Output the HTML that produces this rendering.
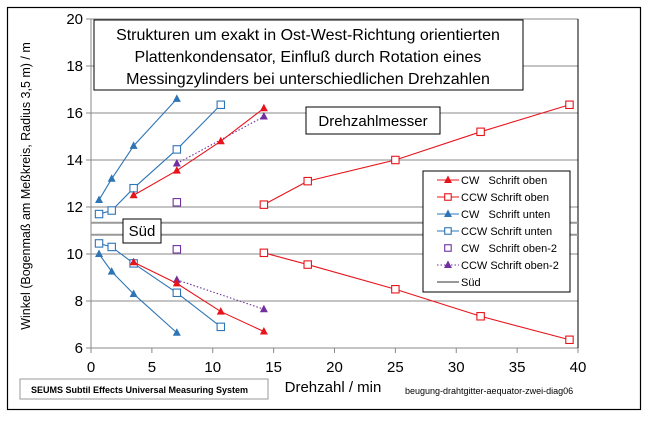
<!DOCTYPE html>
<html><head><meta charset="utf-8"><style>
body{margin:0;background:#fff;font-family:"Liberation Sans",sans-serif}
svg text{font-family:"Liberation Sans",sans-serif}
</style></head><body>
<svg id="chart" width="648" height="417" xmlns="http://www.w3.org/2000/svg">
<rect x="7.5" y="7.5" width="633" height="402" fill="#fff" stroke="#000" stroke-width="1.2"/>
<g id="grid"></g>
<g id="axes"></g>
<g id="series"></g>
<rect x="94" y="20" width="429" height="70" fill="#fff" stroke="#000"/>
<text x="308" y="40" font-size="16" text-anchor="middle">Strukturen um exakt in Ost-West-Richtung orientierten</text>
<text x="308" y="62" font-size="16" text-anchor="middle">Plattenkondensator, Einfluß durch Rotation eines</text>
<text x="308" y="84" font-size="16" text-anchor="middle">Messingzylinders bei unterschiedlichen Drehzahlen</text>
<rect x="306" y="107" width="134" height="27" fill="#fff" stroke="#000"/>
<text x="373" y="126" font-size="15" text-anchor="middle">Drehzahlmesser</text>
<rect x="123" y="219" width="38" height="24" fill="#fff" stroke="#000"/>
<text x="142" y="236" font-size="15" text-anchor="middle">Süd</text>
<text transform="translate(30,186) rotate(-90)" font-size="12.5" text-anchor="middle">Winkel (Bogenmaß am Meßkreis, Radius 3,5 m) / m</text>
<text x="333" y="392" font-size="15" text-anchor="middle">Drehzahl / min</text>
<rect x="20" y="379" width="248" height="20" fill="#fff" stroke="#999"/>
<text x="31" y="393" font-size="9" font-weight="bold">SEUMS    Subtil Effects Universal Measuring System</text>
<text x="405" y="394" font-size="9">beugung-drahtgitter-aequator-zwei-diag06</text>
<g id="legend"></g>
</svg>
<script>
const yTicks=[6,8,10,12,14,16,18,20];
const xTicks=[0,5,10,15,20,25,30,35,40];
const cwObenX=[3.5,7.05,10.66,14.2];
const cwObenUp=[12.5,13.55,14.8,16.2];
const cwObenDn=[9.65,8.75,7.55,6.7];
const ccwObenX=[14.2,17.8,25,32,39.3];
const ccwObenUp=[12.1,13.1,14.0,15.2,16.35];
const ccwObenDn=[10.05,9.55,8.5,7.35,6.35];
const cwUntenX=[0.66,1.7,3.5,7.05];
const cwUntenUp=[12.3,13.2,14.6,16.6];
const cwUntenDn=[10.0,9.25,8.3,6.65];
const ccwUntenX=[0.66,1.7,3.5,7.05,10.66];
const ccwUntenUp=[11.7,11.85,12.8,14.45,16.35];
const ccwUntenDn=[10.45,10.3,9.6,8.35,6.9];
const cwOben2X=[7.05];
const cwOben2Up=[12.2];
const cwOben2Dn=[10.2];
const ccwOben2X=[7.05,14.2];
const ccwOben2Up=[13.85,15.85];
const ccwOben2Dn=[8.9,7.65];
const suedY=[11.33,10.82];

const NS="http://www.w3.org/2000/svg";
const X0=91,X1=578,Y0=348,Y1=19;
const xs=v=>X0+(v-0)/(40-0)*(X1-X0);
const ys=v=>Y0-(v-6)/(20-6)*(Y0-Y1);
function mk(tag,attrs,parent){const e=document.createElementNS(NS,tag);for(const k in attrs)e.setAttribute(k,attrs[k]);parent.appendChild(e);return e;}
const grid=document.getElementById('grid'),axes=document.getElementById('axes'),ser=document.getElementById('series'),leg=document.getElementById('legend');
yTicks.forEach(t=>{
  if(t>6){const g=mk('line',{x1:X0,x2:X1,y1:ys(t),y2:ys(t),stroke:'#888','stroke-width':1},grid);
  
  }
  const tk=mk('line',{x1:X0-5,x2:X0,y1:ys(t),y2:ys(t),stroke:'#888'},axes);
  
  
  const l=mk('text',{x:X0-8,y:ys(t)+5,'font-size':15,'text-anchor':'end'},axes);l.textContent=t;
  
  
});
xTicks.forEach(t=>{
  const tk=mk('line',{x1:xs(t),x2:xs(t),y1:Y0,y2:Y0+5,stroke:'#888'},axes);
  
  
  const l=mk('text',{x:xs(t),y:Y0+24,'font-size':15,'text-anchor':'middle'},axes);l.textContent=t;
  
  
});
const ya=mk('line',{x1:X0,x2:X0,y1:Y1,y2:Y0,stroke:'#888'},axes);


const xa=mk('line',{x1:X0,x2:X1,y1:Y0,y2:Y0,stroke:'#888'},axes);


const ra=mk('line',{x1:X1,x2:X1,y1:Y1,y2:Y0,stroke:'#000'},axes);


suedY.forEach(v=>{
  const l=mk('line',{x1:X0,x2:X1,y1:ys(v),y2:ys(v),stroke:'#999','stroke-width':2},ser);
  
  
});
function marker(kind,cx,cy,color,parent){
  let m;
  if(kind==='tri') m=mk('polygon',{points:`${cx},${cy-4.5} ${cx-4},${cy+3} ${cx+4},${cy+3}`,fill:color},parent);
  else m=mk('rect',{x:cx-3.7,y:cy-3.7,width:7.4,height:7.4,fill:'#fff',stroke:color,'stroke-width':1.1},parent);
  return m;
}
function series(name,xArr,yArr,color,kind,line,dash){
  const g=mk('g',{},ser);
  
  
  if(line){const p=mk('polyline',{points:xArr.map((x,i)=>xs(x)+','+ys(yArr[i])).join(' '),fill:'none',stroke:color,'stroke-width':1.1},g);
    if(dash)p.setAttribute('stroke-dasharray','1.5,2');}
  xArr.forEach((x,i)=>{const m=marker(kind,xs(x),ys(yArr[i]),color,g);
    
    });
}
const RED='#e8141c',BLUE='#2e75b6',PUR='#7030a0';
series('cw-unten-upper',cwUntenX,cwUntenUp,BLUE,'tri',true);
series('cw-unten-lower',cwUntenX,cwUntenDn,BLUE,'tri',true);
series('ccw-unten-upper',ccwUntenX,ccwUntenUp,BLUE,'sq',true);
series('ccw-unten-lower',ccwUntenX,ccwUntenDn,BLUE,'sq',true);
series('ccw-oben2-upper',ccwOben2X,ccwOben2Up,PUR,'tri',true,true);
series('ccw-oben2-lower',ccwOben2X,ccwOben2Dn,PUR,'tri',true,true);
series('cw-oben-upper',cwObenX,cwObenUp,RED,'tri',true);
series('cw-oben-lower',cwObenX,cwObenDn,RED,'tri',true);
series('ccw-oben-upper',ccwObenX,ccwObenUp,RED,'sq',true);
series('ccw-oben-lower',ccwObenX,ccwObenDn,RED,'sq',true);
series('cw-oben2-upper',cwOben2X,cwOben2Up,PUR,'sq',false);
series('cw-oben2-lower',cwOben2X,cwOben2Dn,PUR,'sq',false);
const lb=mk('rect',{x:423,y:171,width:147,height:121,fill:'#fff',stroke:'#000'},leg);


const entries=[['CW   Schrift oben',RED,'tri',true,false],['CCW Schrift oben',RED,'sq',true,false],['CW   Schrift unten',BLUE,'tri',true,false],['CCW Schrift unten',BLUE,'sq',true,false],['CW   Schrift oben-2',PUR,'sq',false,false],['CCW Schrift oben-2',PUR,'tri',true,true],['Süd','#999','none',true,false]];
entries.forEach((e,i)=>{
  const y=180+i*17;
  const g=mk('g',{},leg);
  
  
  if(e[3]){const l=mk('line',{x1:437,x2:459,y1:y,y2:y,stroke:e[1],'stroke-width':e[2]==='none'?2:1.1},g);if(e[4])l.setAttribute('stroke-dasharray','1.5,2');}
  if(e[2]!=='none'){const m=marker(e[2],448,y,e[1],g);if(e[2]==='sq'){m.setAttribute('width',6.5);m.setAttribute('height',6.5);m.setAttribute('x',444.7);m.setAttribute('y',y-3.25);}}
  const t=mk('text',{x:461,y:y+4,'font-size':11},g);t.textContent=e[0];t.setAttribute('xml:space','preserve');t.style.whiteSpace='pre';
});
</script>
</body></html>
